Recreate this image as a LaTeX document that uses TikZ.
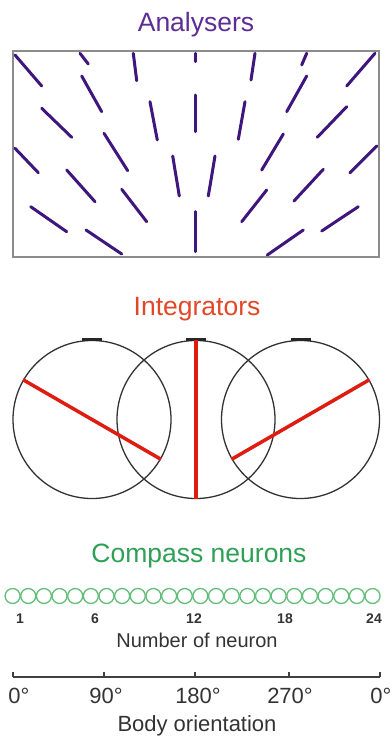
\documentclass[tikz,border=0pt]{standalone}
\usepackage{fontspec}
\setmainfont{Liberation Sans}
\definecolor{anacol}{RGB}{62,22,125}
\definecolor{anatext}{RGB}{92,45,150}
\definecolor{intcol}{RGB}{222,28,16}
\definecolor{inttext}{RGB}{226,72,40}
\definecolor{comtext}{RGB}{46,160,86}
\definecolor{cellcol}{RGB}{96,190,118}
\begin{document}
\begin{tikzpicture}[x=1pt,y=-1pt,
	bar/.style={anacol,line width=3pt,line cap=round},
	frame/.style={draw=black!45,line width=1.6pt},
	ring/.style={circle,draw=black!80,line width=1.3pt,minimum size=158pt,inner sep=0pt},
	topmark/.style={black!85,line width=3pt},
	diam/.style={intcol,line width=3.5pt},
	cell/.style={circle,draw=cellcol,line width=1.3pt,minimum size=15pt,inner sep=0pt},
	title/.style={inner sep=0pt,anchor=base,font=\fontsize{26.5}{30}\selectfont},
	num/.style={inner sep=0pt,anchor=base,text=black!80,font=\fontsize{14}{16}\selectfont\bfseries},
	deg/.style={inner sep=0pt,anchor=base,text=black!80,font=\fontsize{22}{26}\selectfont}]
	\useasboundingbox (0,0) rectangle (391,736);
	
	\node[title,text=anatext] (ana) at (196,31.5) {Analysers};
	\path[frame] (13,51) rectangle (379,257);
	\foreach \xa/\ya/\xb/\yb in {
		15/55/41.7/86, 80/53.3/88.3/64, 81.7/76/101.7/111.7, 133.3/53.3/136.7/80.7,
		195/53.3/195/61.7, 195/95/195/131.7, 41.7/108.3/71.7/137.3, 150/101.7/157.3/140,
		15/148.3/38.3/172.7, 104/133.3/127.7/170.7, 172.7/156/179.3/196, 66.7/170/95/201.7,
		121.7/189.3/146.7/221.7, 30.7/206.7/66.7/231.7, 86/230/121.7/254, 195/211.7/195/251.7,
		255/53.3/251/80, 306.7/53.3/301.7/65, 375/53.3/346.7/86, 245/101.7/238.3/139.3,
		306.7/76/286.7/111.7, 346.7/106.7/317.3/137.3, 215/156/208.3/196, 283.3/134/261.7/170,
		376.7/146/350/172.7, 323.3/169.3/294/201, 266.7/190/241.7/221.7, 358.3/206.7/321.7/231,
		303.3/230/267.3/255}
		\draw[bar] (\xa,\ya) -- (\xb,\yb);
	
	\node[title,text=inttext] (int) at (197,315) {Integrators};
	\node[ring] (L) at (92,419.5) {};
	\node[ring] (M) at (196,419.5) {};
	\node[ring] (R) at (300.5,419.5) {};
	\foreach \c in {L,M,R}
		\draw[topmark] ([xshift=-10pt]\c.north) -- ([xshift=10pt]\c.north);
	\draw[diam] (L.150) -- (L.-30);
	\draw[diam] (M.90) -- (M.-90);
	\draw[diam] (R.30) -- (R.210);
	
	\node[title,text=comtext] (com) at (199,562) {Compass neurons};
	\foreach \i in {1,...,24}
		\node[cell] (n\i) at ({12.6+(\i-1)*15.65},596) {};
	\foreach \i/\x in {1/20,6/95,12/194,18/285,24/374}
		\node[num] (k\i) at (\x,623) {\i};
	\node[deg,font=\fontsize{20}{24}\selectfont] (nn) at (197,647) {Number of neuron};
	
	\path
	(13,677) coordinate (a0)
	(104,677) coordinate (a1)
	(195,677) coordinate (a2)
	(289,677) coordinate (a3)
	(380,677) coordinate (a4);
	\draw[black!75,line width=1.2pt] (a0) -- (a4);
	\foreach \j in {0,...,4}
		\draw[black!75,line width=1.2pt] (a\j) -- ++(0,-5);
	\node[deg] (d0) at (19,703.5) {0°};
	\node[deg] (d1) at (106,703.5) {90°};
	\node[deg] (d2) at (198,703.5) {180°};
	\node[deg] (d3) at (290,703.5) {270°};
	\node[deg] (d4) at (381,703.5) {0°};
	\node[deg] (bo) at (197,731) {Body orientation};
\end{tikzpicture}
\end{document}
